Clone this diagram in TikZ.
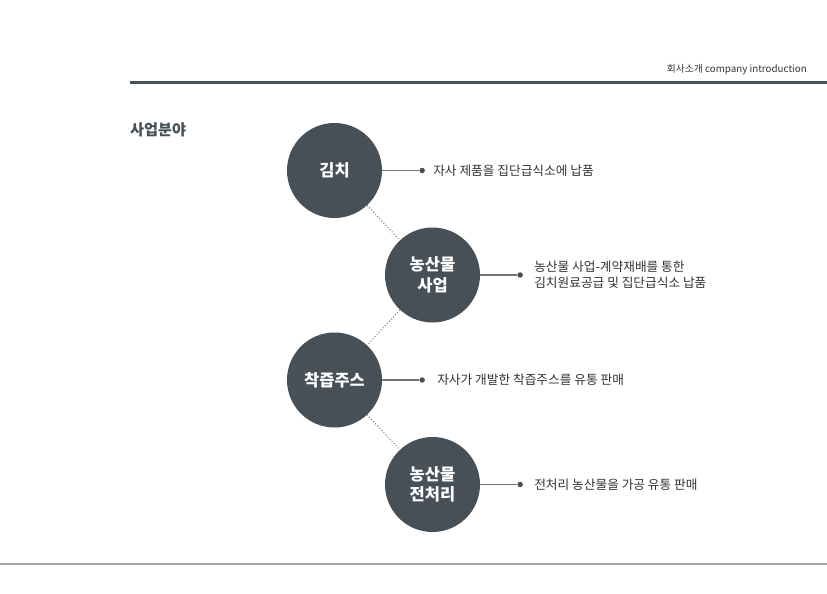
\documentclass[tikz,border=0pt]{standalone}
\usepackage{fontspec}
\setmainfont{Noto Sans CJK KR}
\usetikzlibrary{positioning}
\definecolor{ink}{HTML}{333333}
\definecolor{slate}{HTML}{475057}
\definecolor{rulegray}{HTML}{A3A7AB}
\definecolor{linegray}{HTML}{6E7479}
\tikzset{
  topic/.style={
    circle,
    fill=slate,
    text=white,
    minimum size=95pt,
    inner sep=0pt,
    align=center,
    font=\fontsize{16.5}{20.5}\selectfont\bfseries
  },
  dot/.style={circle, fill=slate, inner sep=0pt, minimum size=5.5pt},
  link/.style={draw=linegray, line width=1.2pt},
  chain/.style={draw=linegray, line width=1pt, dash pattern=on 1pt off 2pt},
  desc/.style={
    anchor=west,
    align=left,
    inner sep=0pt,
    text=ink,
    font=\fontsize{12.7}{16}\selectfont
  }
}

\begin{document}
\begin{tikzpicture}[x=1pt, y=-1pt]
  \useasboundingbox (0,0) rectangle (827,594);

  % header and footer rules
  \node[anchor=base east, inner sep=0pt, text=ink, font=\fontsize{9.8}{12}\selectfont]
    (head) at (807,73) {회사소개 company introduction};
  \draw[draw=slate, line width=3pt] (130,82) -- (827,82);
  \draw[draw=rulegray, line width=2pt] (0,564) -- (827,564);

  \node[anchor=west, inner sep=0pt, text=slate, font=\fontsize{15.2}{18}\selectfont\bfseries]
    (title) at (130,130) {사업분야};

  % business areas
  \node[topic] (kimchi)  at (334.5,170.5) {김치};
  \node[topic] (nongsan) at (432.5,275)   {농산물\\사업};
  \node[topic] (juice)   at (334.5,380)   {착즙주스};
  \node[topic] (prep)    at (432.5,484.5) {농산물\\전처리};

  \draw[chain] (kimchi) -- (nongsan);
  \draw[chain] (nongsan) -- (juice);
  \draw[chain] (juice) -- (prep);

  \node[dot, right=37pt of kimchi]  (kimchi-dot)  {};
  \node[dot, right=37pt of nongsan] (nongsan-dot) {};
  \node[dot, right=37pt of juice]   (juice-dot)   {};
  \node[dot, right=37pt of prep]    (prep-dot)    {};

  \draw[link] (kimchi) -- (kimchi-dot);
  \draw[link] (nongsan) -- (nongsan-dot);
  \draw[link] (juice) -- (juice-dot);
  \draw[link] (prep) -- (prep-dot);

  \node[desc, right=8pt of kimchi-dot]   (kimchi-txt)  {자사 제품을 집단급식소에 납품};
  \node[desc, right=11pt of nongsan-dot] (nongsan-txt)
    {농산물 사업-계약재배를 통한\\김치원료공급 및 집단급식소 납품};
  \node[desc, right=12pt of juice-dot]   (juice-txt)   {자사가 개발한 착즙주스를 유통 판매};
  \node[desc, right=11pt of prep-dot]    (prep-txt)    {전처리 농산물을 가공 유통 판매};
\end{tikzpicture}
\end{document}
